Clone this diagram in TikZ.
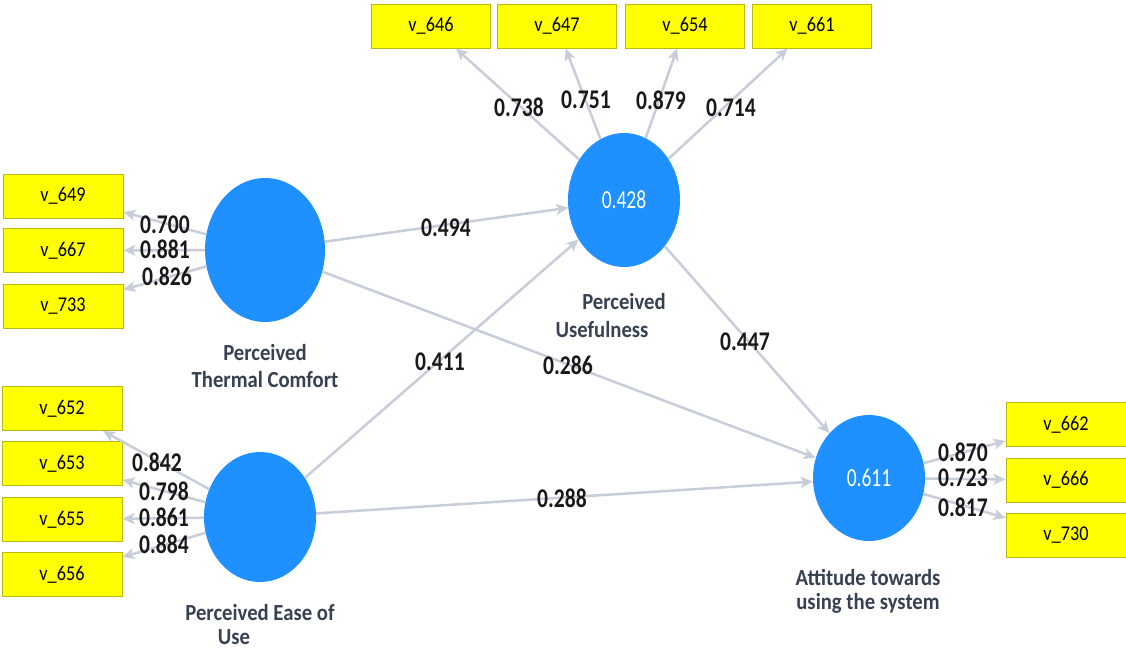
\documentclass[tikz,border=0pt]{standalone}
\usepackage{fontspec}
\setmainfont{Carlito}
\newfontfamily\numf[FakeStretch=0.8]{Carlito}
\newfontfamily\boxf[FakeStretch=0.87]{Carlito}
\newfontfamily\labf[FakeStretch=0.9]{Carlito}
\newfontfamily\valf[FakeStretch=0.75]{Carlito}
\usetikzlibrary{arrows.meta,shapes.geometric}
\definecolor{boxyellow}{RGB}{255,255,0}
\definecolor{boxedge}{RGB}{185,185,20}
\definecolor{lvblue}{RGB}{30,144,255}
\definecolor{arrcol}{RGB}{200,205,218}
\definecolor{lblcol}{RGB}{55,65,82}
\begin{document}
\begin{tikzpicture}[x=1pt,y=-1pt,
  ind/.style={draw=boxedge, fill=boxyellow, line width=1pt, minimum width=119pt, minimum height=44pt, inner sep=0pt, font=\boxf\fontsize{21}{21}\selectfont},
  lat/.style={ellipse, fill=lvblue, inner sep=0pt, text=white, font=\valf\fontsize{26}{26}\selectfont},
  conn/.style={draw=arrcol, line width=2.5pt, -{Stealth[length=12pt,width=11pt,inset=3pt]}},
  load/.style={font=\numf\bfseries\fontsize{27}{27}\selectfont, text=black!90, inner sep=0pt},
  lname/.style={font=\labf\bfseries\fontsize{23}{27}\selectfont, text=lblcol, inner sep=0pt}
]
\useasboundingbox (0,0) rectangle (1126,651);
\fill[white] (0,0) rectangle (1126,651);

% latent variables
\node[lat, minimum width=120pt, minimum height=144pt] (ptc) at (265,250) {};
\node[lat, minimum width=112pt, minimum height=130pt] (peu) at (260,517) {};
\node[lat, minimum width=112pt, minimum height=134pt] (pu) at (624,200) {0.428};
\node[lat, minimum width=112pt, minimum height=126pt] (att) at (869,478) {0.611};

% indicators
\node[ind] (v646) at (431,26) {v\_646};
\node[ind] (v647) at (557,26) {v\_647};
\node[ind] (v654) at (685,26) {v\_654};
\node[ind] (v661) at (812,26) {v\_661};

\node[ind, minimum width=120pt] (v649) at (63,196) {v\_649};
\node[ind, minimum width=120pt] (v667) at (63,250.5) {v\_667};
\node[ind, minimum width=120pt] (v733) at (63,306.5) {v\_733};

\node[ind, minimum width=120pt] (v652) at (62,408.5) {v\_652};
\node[ind, minimum width=120pt] (v653) at (62,463.5) {v\_653};
\node[ind, minimum width=120pt] (v655) at (62,519.5) {v\_655};
\node[ind, minimum width=120pt] (v656) at (62,574.5) {v\_656};

\node[ind, minimum width=120pt] (v662) at (1066,424.5) {v\_662};
\node[ind, minimum width=120pt] (v666) at (1066,480) {v\_666};
\node[ind, minimum width=120pt] (v730) at (1066,535.5) {v\_730};

% outer loadings
\draw[conn] (pu) -- (v646);
\draw[conn] (pu) -- (v647);
\draw[conn] (pu) -- (v654);
\draw[conn] (pu) -- (v661);
\draw[conn] (ptc) -- (v649);
\draw[conn] (ptc) -- (v667);
\draw[conn] (ptc) -- (v733);
\draw[conn] (peu) -- (v652);
\draw[conn] (peu) -- (v653);
\draw[conn] (peu) -- (v655);
\draw[conn] (peu) -- (v656);
\draw[conn] (att) -- (v662);
\draw[conn] (att) -- (v666);
\draw[conn] (att) -- (v730);

% structural paths
\draw[conn] (ptc) -- (pu);
\draw[conn] (peu) -- (pu);
\draw[conn] (ptc) -- (att);
\draw[conn] (peu) -- (att);
\draw[conn] (pu) -- (att);

% loading labels
\node[load] (l1) at (519,107) {0.738};
\node[load] (l2) at (586,100) {0.751};
\node[load] (l3) at (661,100) {0.879};
\node[load] (l4) at (731,108) {0.714};
\node[load] (l5) at (165,225) {0.700};
\node[load] (l6) at (165,249) {0.881};
\node[load] (l7) at (167,276) {0.826};
\node[load] (l8) at (157,462) {0.842};
\node[load] (l9) at (164,491) {0.798};
\node[load] (l10) at (164,517) {0.861};
\node[load] (l11) at (164,544) {0.884};
\node[load] (l12) at (963,452) {0.870};
\node[load] (l13) at (963,478) {0.723};
\node[load] (l14) at (963,507) {0.817};
% path coefficients
\node[load] (p1) at (446,228) {0.494};
\node[load] (p2) at (440,362) {0.411};
\node[load] (p3) at (568,365) {0.286};
\node[load] (p4) at (745,342) {0.447};
\node[load] (p5) at (562,498) {0.288};

% construct names
\node[lname] (n1) at (265,353) {Perceived};
\node[lname] (n2) at (265,380) {Thermal Comfort};
\node[lname] (n3) at (260,613) {Perceived Ease of};
\node[lname] (n4) at (234,637) {Use};
\node[lname] (n5) at (624,302) {Perceived};
\node[lname] (n6) at (602,330) {Usefulness};
\node[lname] (n7) at (868,577) {Attitude towards};
\node[lname] (n8) at (868,603) {using the system};
\end{tikzpicture}
\end{document}
